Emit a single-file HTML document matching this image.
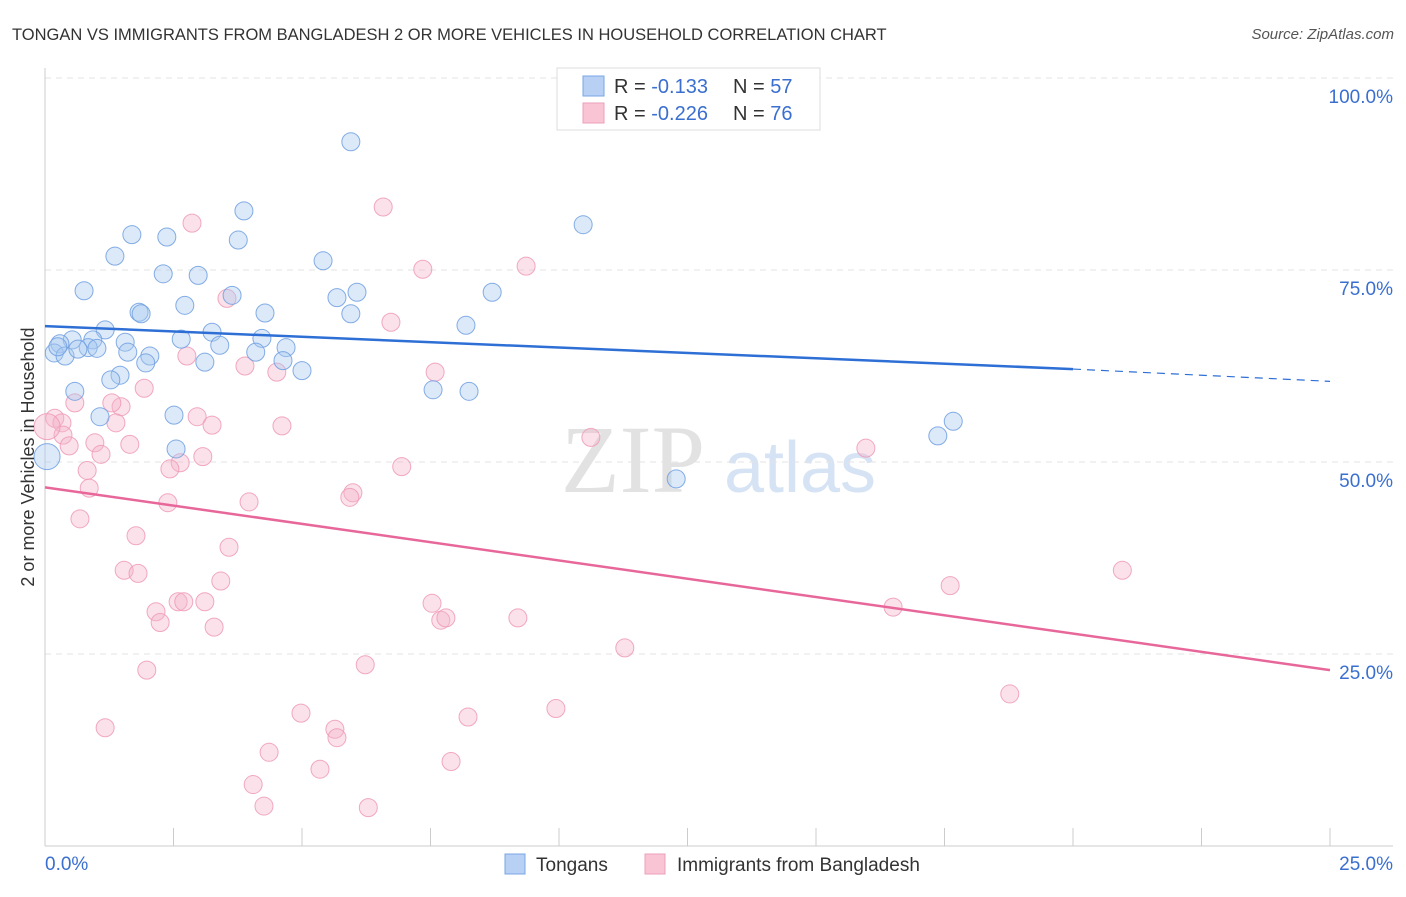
<!DOCTYPE html>
<html><head><meta charset="utf-8"><style>
body{margin:0;background:#fff;font-family:"Liberation Sans",sans-serif}
svg text{font-family:"Liberation Sans",sans-serif}
</style></head><body>
<svg id="chart" width="1406" height="892" xmlns="http://www.w3.org/2000/svg">
<text x="12" y="40" font-size="16.5" fill="#333">TONGAN VS IMMIGRANTS FROM BANGLADESH 2 OR MORE VEHICLES IN HOUSEHOLD CORRELATION CHART</text>
<text x="1394" y="39" font-size="15" fill="#555" text-anchor="end" font-style="italic">Source: ZipAtlas.com</text>
<g>
<text x="633" y="492" font-size="96" fill="#e2e2e2" text-anchor="middle" font-family="Liberation Serif" style="font-family:'Liberation Serif',serif">ZIP</text>
<text x="800" y="492" font-size="72" fill="#d6e3f4" text-anchor="middle">atlas</text>
</g>
<g id="grid"></g><g id="axes"></g><g id="pts"></g><g id="trend"></g>
<text x="0" y="0" transform="translate(34,457) rotate(-90)" font-size="18" fill="#333" text-anchor="middle">2 or more Vehicles in Household</text>
<g>
<rect x="557" y="68" width="263" height="62" fill="#fff" stroke="#ddd"/>
<rect x="583" y="76" width="21" height="20" fill="#b7d0f4" stroke="#7aa6e4"/>
<rect x="583" y="103" width="21" height="20" fill="#f9c5d5" stroke="#eba0ba"/>
<text x="614" y="93" font-size="20" fill="#333">R = <tspan fill="#3a6fd0">-0.133</tspan></text>
<text x="733" y="93" font-size="20" fill="#333">N = <tspan fill="#3a6fd0">57</tspan></text>
<text x="614" y="120" font-size="20" fill="#333">R = <tspan fill="#3a6fd0">-0.226</tspan></text>
<text x="733" y="120" font-size="20" fill="#333">N = <tspan fill="#3a6fd0">76</tspan></text>
</g>
<g>
<rect x="505" y="854" width="20" height="20" fill="#b7d0f4" stroke="#7aa6e4"/>
<text x="536" y="871" font-size="19" fill="#333">Tongans</text>
<rect x="645" y="854" width="20" height="20" fill="#f9c5d5" stroke="#eba0ba"/>
<text x="677" y="871" font-size="19" fill="#333">Immigrants from Bangladesh</text>
</g>
</svg>
<script>
const yTicks=[100,75,50,25];
const xTickLabels=["0.0%","25.0%"];
const blueX=[5.95,3.87,1.69,2.37,3.76,1.36,10.47,5.41,2.30,2.98,0.76,3.64,8.70,6.07,5.68,2.72,1.83,1.87,4.28,5.95,8.19,1.17,3.25,2.65,4.22,0.93,0.53,1.56,3.40,0.29,0.84,1.01,1.61,2.04,0.18,0.39,0.64,4.10,4.69,4.63,3.11,1.96,5.00,1.46,1.28,0.58,7.55,8.25,1.07,2.51,17.67,17.37,2.55,12.28,0.04,0.25];
const blueY=[91.7,82.7,79.6,79.3,78.9,76.8,80.9,76.2,74.5,74.3,72.3,71.7,72.1,72.1,71.4,70.4,69.5,69.3,69.4,69.3,67.8,67.2,66.9,66.0,66.1,65.9,65.9,65.6,65.2,65.4,64.9,64.8,64.3,63.8,64.2,63.8,64.7,64.3,64.9,63.2,63.0,62.9,61.9,61.3,60.7,59.2,59.4,59.2,55.9,56.1,55.3,53.4,51.7,47.8,50.7,65.0];
const pinkX=[6.58,2.86,7.35,9.36,3.54,6.73,2.76,3.89,4.51,7.59,1.93,0.58,1.48,1.30,0.19,0.33,2.96,3.25,1.38,4.61,0.35,0.97,1.65,0.47,10.62,15.97,3.07,2.63,2.43,6.94,1.09,0.82,0.86,5.99,5.93,2.39,3.97,0.68,1.77,3.58,1.54,1.81,3.42,20.96,17.61,2.59,2.70,3.11,7.53,16.50,2.16,2.24,7.70,7.80,9.20,3.29,11.28,1.98,6.23,18.77,1.17,9.94,4.98,8.23,5.64,5.68,4.36,5.35,7.90,4.05,4.26,6.29,0.04];
const pinkY=[83.2,81.1,75.1,75.5,71.3,68.2,63.8,62.5,61.7,61.7,59.6,57.7,57.2,57.7,55.7,55.1,55.9,54.8,55.1,54.7,53.5,52.5,52.3,52.1,53.2,51.8,50.7,49.9,49.1,49.4,51.0,48.9,46.6,46.0,45.4,44.7,44.8,42.6,40.4,38.9,35.9,35.5,34.5,35.9,33.9,31.8,31.8,31.8,31.6,31.1,30.5,29.1,29.4,29.7,29.7,28.5,25.8,22.9,23.6,19.8,15.4,17.9,17.3,16.8,15.2,14.1,12.2,10.0,11.0,8.0,5.2,5.0,54.6];
const blueTrend=[67.7,62.1,60.5]; const pinkTrend=[46.7,22.9]; const trendX=[0,20,25];
const X=v=>45+v/25*1285, Y=v=>846-v/100*768;
const NS="http://www.w3.org/2000/svg";
function mk(t,a,p){const e=document.createElementNS(NS,t);for(const k in a)e.setAttribute(k,a[k]);p.appendChild(e);return e;}
const grid=document.getElementById('grid'),axes=document.getElementById('axes'),pts=document.getElementById('pts'),tr=document.getElementById('trend');
yTicks.forEach(t=>{const l=mk('line',{x1:45,x2:1393,y1:Y(t),y2:Y(t),stroke:'#e3e3e3','stroke-dasharray':'6,5'},grid);


const tx=mk('text',{x:1393,y:Y(t)+25,'font-size':19,fill:'#3a6fd0','text-anchor':'end'},grid);tx.textContent=t.toFixed(1)+'%';

});
mk('line',{x1:45,x2:45,y1:68,y2:846,stroke:'#ccc'},axes);
mk('line',{x1:45,x2:1393,y1:846,y2:846,stroke:'#ccc'},axes);
for(let i=0;i<=10;i++){const x=X(i*2.5);mk('line',{x1:x,x2:x,y1:828,y2:846,stroke:'#ccc'},axes);}
const l0=mk('text',{x:45,y:870,'font-size':19,fill:'#3a6fd0'},axes);l0.textContent=xTickLabels[0];


const l1=mk('text',{x:1393,y:870,'font-size':19,fill:'#3a6fd0','text-anchor':'end'},axes);l1.textContent=xTickLabels[1];


function draw(xs,ys,fill,stroke,name){xs.forEach((v,i)=>{const big=(v<0.1);const c=mk('circle',{cx:X(v),cy:Y(ys[i]),r:big?13:9,fill:fill,'fill-opacity':0.4,stroke:stroke,'stroke-width':1,'stroke-opacity':0.85},pts);

});}
draw(pinkX,pinkY,'#f6b3c9','#ee9ab8','point-bangladesh');
draw(blueX,blueY,'#a8c8f0','#6f9fe0','point-tongans');
const b1=mk('line',{x1:X(trendX[0]),y1:Y(blueTrend[0]),x2:X(trendX[1]),y2:Y(blueTrend[1]),stroke:'#2e6fd6','stroke-width':2.5},tr);


const b2=mk('line',{x1:X(trendX[1]),y1:Y(blueTrend[1]),x2:X(trendX[2]),y2:Y(blueTrend[2]),stroke:'#2e6fd6','stroke-width':1.2,'stroke-dasharray':'8,6'},tr);


const p1=mk('line',{x1:X(trendX[0]),y1:Y(pinkTrend[0]),x2:X(trendX[2]),y2:Y(pinkTrend[1]),stroke:'#e8679a','stroke-width':2.5},tr);


</script>
</body></html>
